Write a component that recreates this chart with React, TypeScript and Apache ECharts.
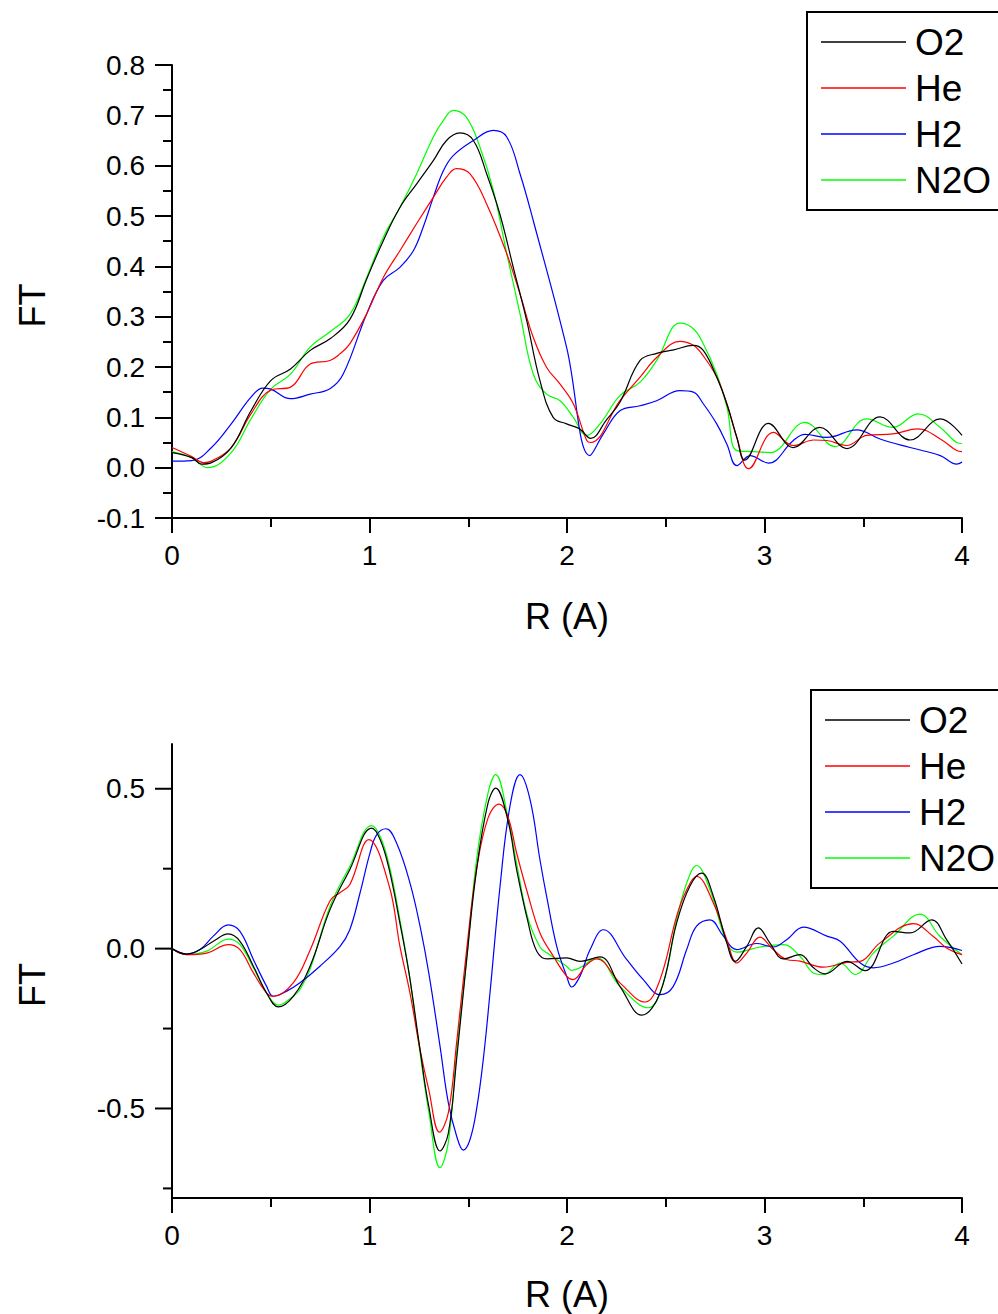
import React, { useEffect, useRef } from "react";
import * as echarts from "echarts";

const FONT = "'Liberation Sans', Arial, Helvetica, sans-serif";
const NAMES = ["O2", "He", "H2", "N2O"];
const COLORS = ["#000000", "#ff0000", "#0000ff", "#00ff00"];

// Top panel: |FT| magnitude
const O2_MAG = [[0,0.030],[0.1,0.020],[0.15,0.007],[0.2,0.010],[0.3,0.040],[0.4,0.113],[0.5,0.173],[0.6,0.196],[0.7,0.233],[0.8,0.256],[0.9,0.294],[0.986,0.375],[1.07,0.451],[1.154,0.517],[1.239,0.564],[1.323,0.61],[1.39,0.65],[1.458,0.665],[1.526,0.65],[1.593,0.584],[1.66,0.504],[1.728,0.398],[1.796,0.292],[1.863,0.173],[1.93,0.10],[1.998,0.087],[2.065,0.077],[2.12,0.058],[2.2,0.095],[2.268,0.13],[2.37,0.213],[2.454,0.227],[2.54,0.234],[2.64,0.243],[2.69,0.233],[2.758,0.18],[2.81,0.126],[2.86,0.06],[2.9,0.015],[3.02,0.088],[3.146,0.04],[3.28,0.08],[3.416,0.038],[3.585,0.101],[3.737,0.055],[3.89,0.097],[4.0,0.064]];
const HE_MAG = [[0,0.040],[0.1,0.022],[0.16,0.010],[0.2,0.013],[0.3,0.040],[0.4,0.107],[0.5,0.154],[0.6,0.160],[0.7,0.206],[0.8,0.213],[0.85,0.226],[0.9,0.246],[0.986,0.306],[1.07,0.378],[1.154,0.431],[1.239,0.485],[1.323,0.537],[1.39,0.577],[1.44,0.594],[1.508,0.584],[1.593,0.524],[1.695,0.425],[1.762,0.345],[1.829,0.259],[1.897,0.199],[1.965,0.166],[2.032,0.127],[2.1,0.054],[2.12,0.05],[2.268,0.133],[2.37,0.18],[2.454,0.219],[2.572,0.251],[2.64,0.243],[2.69,0.222],[2.758,0.18],[2.81,0.126],[2.86,0.06],[2.92,-0.002],[3.045,0.07],[3.146,0.044],[3.25,0.055],[3.315,0.054],[3.416,0.044],[3.517,0.064],[3.65,0.067],[3.777,0.077],[3.89,0.057],[3.973,0.034],[4.0,0.032]];
const H2_MAG = [[0,0.013],[0.1,0.014],[0.2,0.040],[0.3,0.087],[0.4,0.140],[0.46,0.158],[0.5,0.156],[0.6,0.137],[0.7,0.146],[0.8,0.157],[0.867,0.186],[0.986,0.306],[1.07,0.372],[1.154,0.398],[1.222,0.431],[1.272,0.478],[1.323,0.537],[1.374,0.59],[1.424,0.62],[1.526,0.65],[1.627,0.67],[1.695,0.657],[1.762,0.584],[1.829,0.491],[1.998,0.239],[2.116,0.024],[2.184,0.067],[2.268,0.113],[2.37,0.123],[2.454,0.133],[2.572,0.153],[2.64,0.15],[2.69,0.127],[2.758,0.087],[2.809,0.047],[2.86,0.004],[2.927,0.024],[3.02,0.009],[3.146,0.054],[3.205,0.066],[3.315,0.06],[3.467,0.075],[3.585,0.057],[3.737,0.04],[3.89,0.024],[3.973,0.007],[4.0,0.011]];
const N2O_MAG = [[0,0.032],[0.1,0.020],[0.18,0.0],[0.3,0.030],[0.4,0.097],[0.5,0.156],[0.6,0.186],[0.7,0.240],[0.8,0.270],[0.9,0.304],[0.986,0.378],[1.07,0.458],[1.154,0.517],[1.239,0.584],[1.323,0.657],[1.374,0.69],[1.424,0.71],[1.491,0.696],[1.559,0.637],[1.627,0.551],[1.695,0.425],[1.762,0.306],[1.829,0.186],[1.897,0.146],[1.965,0.133],[2.032,0.10],[2.1,0.064],[2.167,0.087],[2.268,0.143],[2.37,0.17],[2.454,0.213],[2.572,0.287],[2.64,0.276],[2.69,0.246],[2.758,0.186],[2.81,0.12],[2.86,0.034],[2.95,0.032],[3.03,0.03],[3.205,0.09],[3.357,0.042],[3.517,0.097],[3.65,0.08],[3.777,0.107],[3.89,0.08],[3.973,0.05],[4.0,0.048]];

// Bottom panel: real part of FT
const O2_RE = [[0,0],[0.074,-0.017],[0.142,-0.003],[0.209,0.023],[0.285,0.046],[0.344,0.023],[0.412,-0.055],[0.479,-0.139],[0.538,-0.182],[0.614,-0.149],[0.699,-0.055],[0.8,0.122],[0.9,0.247],[1.011,0.377],[1.055,0.34],[1.1,0.247],[1.154,0.08],[1.2,-0.076],[1.256,-0.316],[1.3,-0.493],[1.357,-0.633],[1.399,-0.578],[1.441,-0.347],[1.492,-0.034],[1.542,0.247],[1.6,0.455],[1.639,0.502],[1.7,0.403],[1.745,0.247],[1.8,0.09],[1.847,-0.008],[1.9,-0.032],[1.998,-0.029],[2.066,-0.04],[2.167,-0.026],[2.268,-0.118],[2.378,-0.208],[2.471,-0.139],[2.555,0.08],[2.622,0.195],[2.682,0.236],[2.741,0.164],[2.809,0.018],[2.851,-0.04],[2.91,0.007],[2.969,0.065],[3.027,0.018],[3.095,-0.032],[3.18,-0.019],[3.248,-0.06],[3.307,-0.079],[3.417,-0.04],[3.509,-0.069],[3.652,0.054],[3.737,0.049],[3.846,0.09],[3.922,0.028],[4.0,-0.048]];
const HE_RE = [[0,0],[0.074,-0.019],[0.176,-0.014],[0.285,0.0125],[0.344,-0.003],[0.412,-0.076],[0.479,-0.139],[0.513,-0.149],[0.614,-0.107],[0.699,-0.005],[0.8,0.15],[0.85,0.175],[0.9,0.2],[0.997,0.341],[1.1,0.195],[1.154,0.007],[1.205,-0.139],[1.256,-0.316],[1.3,-0.441],[1.354,-0.574],[1.399,-0.514],[1.441,-0.295],[1.492,-0.003],[1.542,0.247],[1.6,0.408],[1.656,0.452],[1.7,0.414],[1.745,0.299],[1.8,0.174],[1.863,0.049],[1.931,-0.024],[1.998,-0.086],[2.03,-0.097],[2.1,-0.05],[2.15,-0.032],[2.268,-0.107],[2.395,-0.167],[2.471,-0.097],[2.555,0.101],[2.606,0.184],[2.656,0.226],[2.741,0.143],[2.809,0.028],[2.86,-0.045],[2.91,-0.014],[2.977,0.036],[3.044,-0.003],[3.112,-0.034],[3.18,-0.039],[3.298,-0.058],[3.417,-0.043],[3.485,-0.04],[3.585,0.018],[3.754,0.078],[3.855,0.038],[3.922,0.002],[4.0,-0.019]];
const H2_RE = [[0,0],[0.074,-0.017],[0.142,-0.003],[0.209,0.039],[0.285,0.074],[0.344,0.054],[0.412,-0.034],[0.479,-0.118],[0.513,-0.149],[0.581,-0.133],[0.648,-0.107],[0.749,-0.055],[0.851,0.007],[0.9,0.059],[0.952,0.174],[1.003,0.3],[1.036,0.356],[1.084,0.375],[1.137,0.33],[1.205,0.205],[1.256,0.07],[1.3,-0.076],[1.357,-0.305],[1.399,-0.482],[1.441,-0.586],[1.475,-0.63],[1.509,-0.597],[1.542,-0.503],[1.576,-0.347],[1.61,-0.139],[1.661,0.195],[1.711,0.445],[1.762,0.544],[1.813,0.466],[1.863,0.278],[1.9,0.153],[1.948,0.007],[1.998,-0.086],[2.024,-0.12],[2.066,-0.086],[2.117,-0.003],[2.184,0.059],[2.302,-0.034],[2.386,-0.097],[2.471,-0.144],[2.538,-0.118],[2.606,-0.003],[2.656,0.07],[2.724,0.09],[2.792,0.039],[2.86,-0.003],[2.96,0.016],[3.044,0.005],[3.112,0.028],[3.197,0.067],[3.316,0.039],[3.383,0.023],[3.485,-0.045],[3.551,-0.06],[3.652,-0.045],[3.754,-0.019],[3.889,0.007],[4.0,-0.006]];
const N2O_RE = [[0,0],[0.074,-0.019],[0.176,-0.008],[0.285,0.03],[0.344,0.0125],[0.412,-0.06],[0.479,-0.139],[0.538,-0.177],[0.614,-0.149],[0.648,-0.128],[0.699,-0.065],[0.8,0.132],[0.9,0.257],[1.011,0.385],[1.055,0.35],[1.1,0.26],[1.154,0.09],[1.2,-0.076],[1.256,-0.326],[1.3,-0.51],[1.357,-0.685],[1.399,-0.607],[1.441,-0.326],[1.492,-0.034],[1.542,0.278],[1.6,0.486],[1.639,0.544],[1.7,0.414],[1.745,0.267],[1.8,0.1],[1.863,0.005],[1.9,-0.014],[1.998,-0.055],[2.024,-0.068],[2.066,-0.06],[2.15,-0.029],[2.268,-0.118],[2.412,-0.185],[2.488,-0.107],[2.555,0.09],[2.606,0.205],[2.656,0.26],[2.724,0.184],[2.809,0.018],[2.86,-0.011],[2.977,0.005],[3.095,0.0125],[3.18,-0.024],[3.248,-0.076],[3.298,-0.081],[3.383,-0.045],[3.46,-0.081],[3.551,-0.014],[3.652,0.039],[3.787,0.108],[3.889,0.038],[4.0,-0.019]];

const TOP_SERIES = [O2_MAG, HE_MAG, H2_MAG, N2O_MAG];
const BOTTOM_SERIES = [O2_RE, HE_RE, H2_RE, N2O_RE];

const BOTTOM_Y_MAJOR = [-0.5, 0, 0.5];
const BOTTOM_Y_MINOR = [-0.75, -0.25, 0.25];

export default function App() {
  const ref = useRef<HTMLDivElement>(null);
  useEffect(() => {
    if (!ref.current) return;
    const chart = echarts.init(ref.current, null, { renderer: "svg" });
    const black = "#000";
    const axisLine = { onZero: false, lineStyle: { color: black, width: 2 } };
    const tickStyle = { color: black, width: 2 };
    const labelStyle = { color: black, fontSize: 28, fontFamily: FONT };
    const nameStyle = { color: black, fontSize: 36, fontFamily: FONT };

    const xAxis = (gridIndex: number, nameGap: number) => ({
      gridIndex,
      type: "value",
      min: 0,
      max: 4,
      interval: 1,
      axisLine,
      axisTick: { show: true, length: 15, lineStyle: tickStyle },
      minorTick: { show: true, splitNumber: 2, length: 9, lineStyle: tickStyle },
      splitLine: { show: false },
      axisLabel: { ...labelStyle, margin: 23 },
      name: "R (A)",
      nameLocation: "middle",
      nameGap,
      nameTextStyle: nameStyle,
    });

    const lineSeries = (data: number[][], i: number, axisIndex: number) => ({
      type: "line",
      name: NAMES[i],
      xAxisIndex: axisIndex,
      yAxisIndex: axisIndex,
      data,
      smooth: 0.4,
      symbol: "none",
      showSymbol: false,
      lineStyle: { color: COLORS[i], width: 1.2 },
      itemStyle: { color: COLORS[i] },
      z: 10 - i,
    });

    const legend = (left: number, top: number) => ({
      data: NAMES,
      orient: "vertical",
      left,
      top,
      icon: "rect",
      itemWidth: 85,
      itemHeight: 1.5,
      itemGap: 6,
      padding: [10, 40, 10, 14],
      borderColor: black,
      borderWidth: 2,
      selectedMode: false,
      textStyle: {
        color: black,
        fontSize: 37,
        fontFamily: FONT,
        lineHeight: 40,
        padding: [0, 0, 0, 4],
      },
    });

    const yName = {
      name: "FT",
      nameLocation: "middle",
      nameGap: 122,
      nameTextStyle: { ...nameStyle, padding: [0, 28, 0, 0] },
    };

    chart.setOption({
      animation: false,
      backgroundColor: "#fff",
      grid: [
        { left: 172, top: 65, width: 790, height: 453 },
        { left: 172, top: 744, width: 790, height: 454 },
      ],
      legend: [legend(807, 12), legend(811, 690)],
      xAxis: [xAxis(0, 80), xAxis(1, 78)],
      yAxis: [
        {
          gridIndex: 0,
          type: "value",
          min: -0.1,
          max: 0.8,
          interval: 0.1,
          axisLine,
          axisTick: { show: true, length: 17, lineStyle: tickStyle },
          minorTick: { show: true, splitNumber: 2, length: 9, lineStyle: tickStyle },
          splitLine: { show: false },
          axisLabel: { ...labelStyle, margin: 27, formatter: (v: number) => v.toFixed(1) },
          ...yName,
        },
        {
          gridIndex: 1,
          type: "value",
          min: -0.78,
          max: 0.64,
          splitNumber: 3,
          axisLine,
          axisTick: { show: false },
          minorTick: { show: false },
          splitLine: { show: false },
          axisLabel: {
            ...labelStyle,
            margin: 27,
            formatter: (v: number) =>
              Math.abs(v * 2 - Math.round(v * 2)) < 1e-6 ? v.toFixed(1) : "",
          },
          ...yName,
        },
      ],
      series: [
        ...TOP_SERIES.map((d, i) => lineSeries(d, i, 0)),
        ...BOTTOM_SERIES.map((d, i) => lineSeries(d, i, 1)),
        {
          type: "custom",
          xAxisIndex: 1,
          yAxisIndex: 1,
          silent: true,
          clip: false,
          data: [
            ...BOTTOM_Y_MAJOR.map((v) => [0, v, 1]),
            ...BOTTOM_Y_MINOR.map((v) => [0, v, 0]),
          ],
          renderItem: (params: any, api: any) => {
            const p = api.coord([0, api.value(1)]);
            const len = api.value(2) ? 17 : 9;
            return {
              type: "line",
              shape: { x1: p[0] - len, y1: p[1], x2: p[0], y2: p[1] },
              style: { stroke: black, lineWidth: 2 },
            };
          },
        },
      ],
    });
    return () => chart.dispose();
  }, []);
  return (
    <div
      ref={ref}
      style={{ position: "absolute", left: 0, top: 0, width: 998, height: 1314 }}
    />
  );
}
